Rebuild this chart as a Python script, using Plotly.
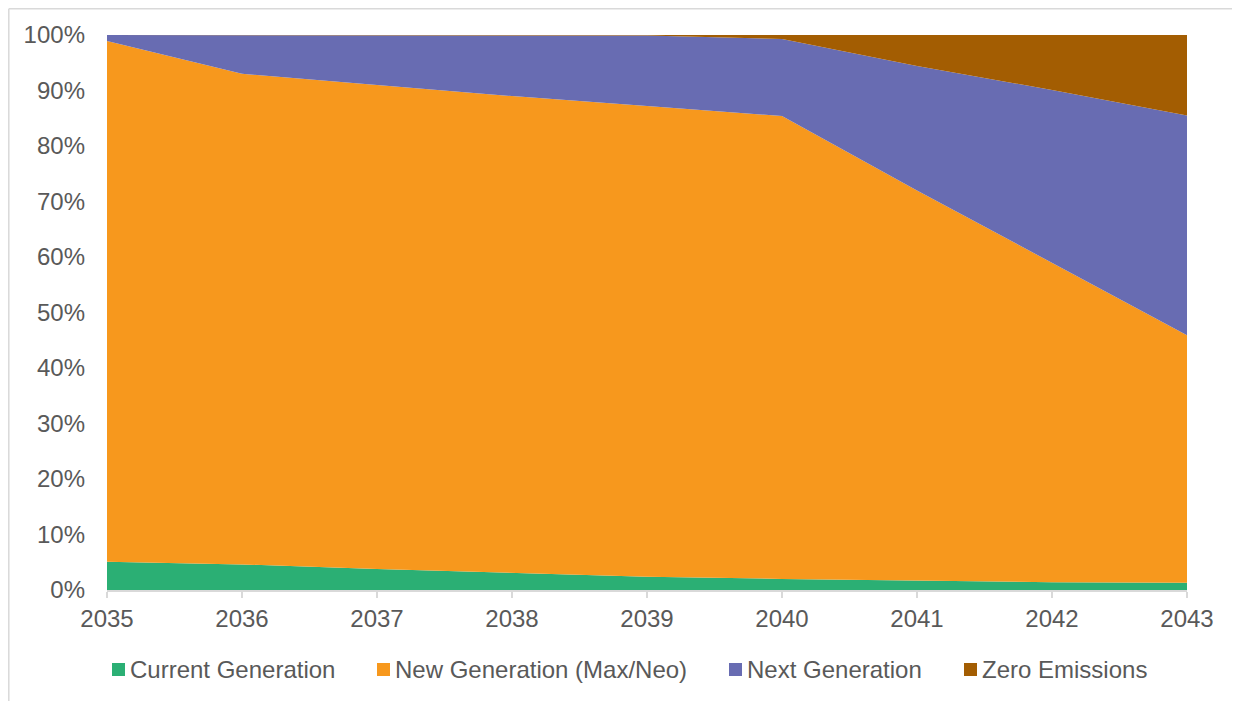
import plotly.graph_objects as go

years = [2035, 2036, 2037, 2038, 2039, 2040, 2041, 2042, 2043]
current_gen = [5.1, 4.6, 3.8, 3.1, 2.4, 2.0, 1.7, 1.4, 1.3]
new_gen = [93.8, 88.4, 87.2, 85.9, 84.8, 83.4, 70.3, 57.6, 44.6]
next_gen = [1.1, 7.0, 9.0, 11.0, 12.7, 13.9, 22.4, 31.1, 39.6]
zero_em = [0.0, 0.0, 0.0, 0.0, 0.1, 0.7, 5.6, 9.9, 14.5]

names = ["Current Generation", "New Generation (Max/Neo)", "Next Generation", "Zero Emissions"]
colors = ["#2BAF74", "#F7981D", "#686CB2", "#A35D02"]
series = [current_gen, new_gen, next_gen, zero_em]

# page-pixel left edges of the legend swatches
legend_x = [112, 377, 729, 964]

fig = go.Figure()
for name, col, vals in zip(names, colors, series):
    fig.add_trace(go.Scatter(
        x=years, y=vals, name=name, mode="lines",
        stackgroup="one", groupnorm="percent",
        line=dict(width=0, color=col), fillcolor=col,
        showlegend=False,
    ))

txt = "#595959"
# plot area in page pixels
PL, PR, PT, PB = 107, 1187, 35, 590
PW, PH = PR - PL, PB - PT


def px_x(v):
    return (v - PL) / PW


def px_y(v):
    return (PB - v) / PH


shapes = [
    dict(type="line", xref="paper", yref="paper", x0=px_x(8.8), x1=px_x(8.8),
         y0=px_y(8.8), y1=px_y(760), line=dict(color="#D9D9D9", width=1.5), layer="above"),
    dict(type="line", xref="paper", yref="paper", x0=px_x(8.8), x1=px_x(1300),
         y0=px_y(8.8), y1=px_y(8.8), line=dict(color="#D9D9D9", width=1.5), layer="above"),
]
annotations = []
for name, col, lx in zip(names, colors, legend_x):
    shapes.append(dict(type="rect", xref="paper", yref="paper",
                       x0=px_x(lx), x1=px_x(lx + 13), y0=px_y(676), y1=px_y(663),
                       fillcolor=col, line=dict(width=0), layer="above"))
    annotations.append(dict(xref="paper", yref="paper", x=px_x(lx + 16), y=px_y(669.5),
                            xanchor="left", yanchor="middle", text=name, showarrow=False,
                            font=dict(size=24, color=txt)))

fig.update_layout(
    width=1232, height=693,
    margin=dict(l=99, r=53, t=27, b=111),
    paper_bgcolor="white", plot_bgcolor="white",
    font=dict(family="Liberation Sans, Arial, sans-serif", size=24, color=txt),
    showlegend=False,
    xaxis=dict(range=[2035, 2043], tickmode="array", tickvals=years,
               ticktext=[str(y) for y in years], showgrid=False,
               showline=True, linecolor="#D9D9D9", linewidth=1.5,
               ticks="outside", ticklen=6, tickcolor="#D9D9D9", tickwidth=1.5,
               zeroline=False),
    yaxis=dict(range=[0, 100], tickmode="array", tickvals=list(range(0, 101, 10)),
               ticktext=[f"{v}%" for v in range(0, 101, 10)], showgrid=False,
               zeroline=False, showline=False, ticklabelstandoff=21),
    shapes=shapes,
    annotations=annotations,
)

fig.write_html("out.html")
